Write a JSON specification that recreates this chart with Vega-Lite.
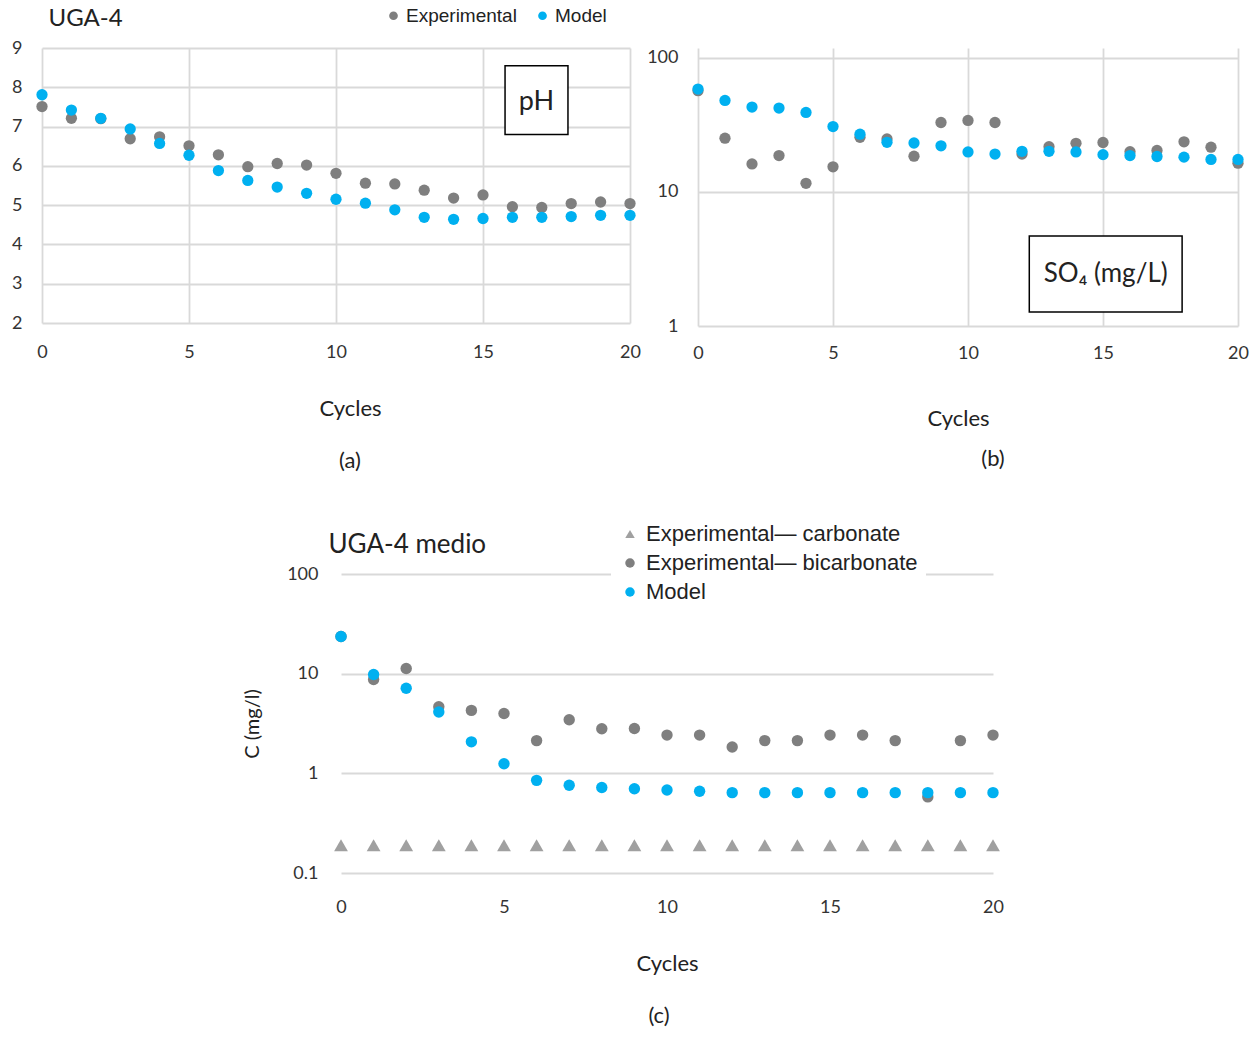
{
  "$schema": "https://vega.github.io/schema/vega-lite/v6.json",
  "background": "white",
  "padding": {"left": 11, "top": 6, "right": 5, "bottom": 5},
  "config": {
    "view": {"stroke": null},
    "axis": {
      "domain": false, "ticks": false, "grid": true, "labelFlush": false, "labelOverlap": false,
      "gridColor": "#d9d9d9", "gridWidth": 1.8,
      "labelFont": "Lato", "labelFontSize": 18, "labelColor": "#333333",
      "titleFont": "Lato", "titleFontSize": 22, "titleFontWeight": "normal", "titleColor": "#222222"
    },
    "legend": {"labelFont": "Liberation Sans", "labelColor": "#222222", "labelLimit": 0},
    "title": {"font": "Lato", "fontWeight": "normal", "fontSize": 22, "color": "#222222"}
  },
  "datasets": {
    "ph": [
      {"cycle": 0, "value": 7.51, "series": "Experimental"},
      {"cycle": 1, "value": 7.21, "series": "Experimental"},
      {"cycle": 2, "value": 7.2, "series": "Experimental"},
      {"cycle": 3, "value": 6.69, "series": "Experimental"},
      {"cycle": 4, "value": 6.74, "series": "Experimental"},
      {"cycle": 5, "value": 6.51, "series": "Experimental"},
      {"cycle": 6, "value": 6.28, "series": "Experimental"},
      {"cycle": 7, "value": 5.98, "series": "Experimental"},
      {"cycle": 8, "value": 6.06, "series": "Experimental"},
      {"cycle": 9, "value": 6.02, "series": "Experimental"},
      {"cycle": 10, "value": 5.81, "series": "Experimental"},
      {"cycle": 11, "value": 5.56, "series": "Experimental"},
      {"cycle": 12, "value": 5.54, "series": "Experimental"},
      {"cycle": 13, "value": 5.38, "series": "Experimental"},
      {"cycle": 14, "value": 5.18, "series": "Experimental"},
      {"cycle": 15, "value": 5.26, "series": "Experimental"},
      {"cycle": 16, "value": 4.96, "series": "Experimental"},
      {"cycle": 17, "value": 4.94, "series": "Experimental"},
      {"cycle": 18, "value": 5.04, "series": "Experimental"},
      {"cycle": 19, "value": 5.08, "series": "Experimental"},
      {"cycle": 20, "value": 5.04, "series": "Experimental"},
      {"cycle": 0, "value": 7.81, "series": "Model"},
      {"cycle": 1, "value": 7.42, "series": "Model"},
      {"cycle": 2, "value": 7.21, "series": "Model"},
      {"cycle": 3, "value": 6.94, "series": "Model"},
      {"cycle": 4, "value": 6.57, "series": "Model"},
      {"cycle": 5, "value": 6.27, "series": "Model"},
      {"cycle": 6, "value": 5.88, "series": "Model"},
      {"cycle": 7, "value": 5.63, "series": "Model"},
      {"cycle": 8, "value": 5.46, "series": "Model"},
      {"cycle": 9, "value": 5.3, "series": "Model"},
      {"cycle": 10, "value": 5.15, "series": "Model"},
      {"cycle": 11, "value": 5.05, "series": "Model"},
      {"cycle": 12, "value": 4.88, "series": "Model"},
      {"cycle": 13, "value": 4.69, "series": "Model"},
      {"cycle": 14, "value": 4.64, "series": "Model"},
      {"cycle": 15, "value": 4.66, "series": "Model"},
      {"cycle": 16, "value": 4.69, "series": "Model"},
      {"cycle": 17, "value": 4.69, "series": "Model"},
      {"cycle": 18, "value": 4.71, "series": "Model"},
      {"cycle": 19, "value": 4.74, "series": "Model"},
      {"cycle": 20, "value": 4.74, "series": "Model"}
    ],
    "so4": [
      {"cycle": 0, "value": 57, "series": "Experimental"},
      {"cycle": 1, "value": 25.2, "series": "Experimental"},
      {"cycle": 2, "value": 16.2, "series": "Experimental"},
      {"cycle": 3, "value": 18.7, "series": "Experimental"},
      {"cycle": 4, "value": 11.6, "series": "Experimental"},
      {"cycle": 5, "value": 15.4, "series": "Experimental"},
      {"cycle": 6, "value": 25.6, "series": "Experimental"},
      {"cycle": 7, "value": 24.9, "series": "Experimental"},
      {"cycle": 8, "value": 18.5, "series": "Experimental"},
      {"cycle": 9, "value": 33.0, "series": "Experimental"},
      {"cycle": 10, "value": 34.2, "series": "Experimental"},
      {"cycle": 11, "value": 33.0, "series": "Experimental"},
      {"cycle": 12, "value": 19.2, "series": "Experimental"},
      {"cycle": 13, "value": 21.8, "series": "Experimental"},
      {"cycle": 14, "value": 23.1, "series": "Experimental"},
      {"cycle": 15, "value": 23.4, "series": "Experimental"},
      {"cycle": 16, "value": 20.0, "series": "Experimental"},
      {"cycle": 17, "value": 20.4, "series": "Experimental"},
      {"cycle": 18, "value": 23.7, "series": "Experimental"},
      {"cycle": 19, "value": 21.6, "series": "Experimental"},
      {"cycle": 20, "value": 16.4, "series": "Experimental"},
      {"cycle": 0, "value": 58.6, "series": "Model"},
      {"cycle": 1, "value": 48.2, "series": "Model"},
      {"cycle": 2, "value": 43.0, "series": "Model"},
      {"cycle": 3, "value": 42.3, "series": "Model"},
      {"cycle": 4, "value": 39.2, "series": "Model"},
      {"cycle": 5, "value": 30.8, "series": "Model"},
      {"cycle": 6, "value": 27.0, "series": "Model"},
      {"cycle": 7, "value": 23.5, "series": "Model"},
      {"cycle": 8, "value": 23.2, "series": "Model"},
      {"cycle": 9, "value": 22.1, "series": "Model"},
      {"cycle": 10, "value": 19.9, "series": "Model"},
      {"cycle": 11, "value": 19.2, "series": "Model"},
      {"cycle": 12, "value": 20.1, "series": "Model"},
      {"cycle": 13, "value": 20.1, "series": "Model"},
      {"cycle": 14, "value": 19.9, "series": "Model"},
      {"cycle": 15, "value": 19.0, "series": "Model"},
      {"cycle": 16, "value": 18.7, "series": "Model"},
      {"cycle": 17, "value": 18.4, "series": "Model"},
      {"cycle": 18, "value": 18.2, "series": "Model"},
      {"cycle": 19, "value": 17.5, "series": "Model"},
      {"cycle": 20, "value": 17.5, "series": "Model"}
    ],
    "carbonate": [
      {"cycle": 0, "value": 0.19, "series": "Experimental— carbonate"},
      {"cycle": 1, "value": 0.19, "series": "Experimental— carbonate"},
      {"cycle": 2, "value": 0.19, "series": "Experimental— carbonate"},
      {"cycle": 3, "value": 0.19, "series": "Experimental— carbonate"},
      {"cycle": 4, "value": 0.19, "series": "Experimental— carbonate"},
      {"cycle": 5, "value": 0.19, "series": "Experimental— carbonate"},
      {"cycle": 6, "value": 0.19, "series": "Experimental— carbonate"},
      {"cycle": 7, "value": 0.19, "series": "Experimental— carbonate"},
      {"cycle": 8, "value": 0.19, "series": "Experimental— carbonate"},
      {"cycle": 9, "value": 0.19, "series": "Experimental— carbonate"},
      {"cycle": 10, "value": 0.19, "series": "Experimental— carbonate"},
      {"cycle": 11, "value": 0.19, "series": "Experimental— carbonate"},
      {"cycle": 12, "value": 0.19, "series": "Experimental— carbonate"},
      {"cycle": 13, "value": 0.19, "series": "Experimental— carbonate"},
      {"cycle": 14, "value": 0.19, "series": "Experimental— carbonate"},
      {"cycle": 15, "value": 0.19, "series": "Experimental— carbonate"},
      {"cycle": 16, "value": 0.19, "series": "Experimental— carbonate"},
      {"cycle": 17, "value": 0.19, "series": "Experimental— carbonate"},
      {"cycle": 18, "value": 0.19, "series": "Experimental— carbonate"},
      {"cycle": 19, "value": 0.19, "series": "Experimental— carbonate"},
      {"cycle": 20, "value": 0.19, "series": "Experimental— carbonate"}
    ],
    "bicarb": [
      {"cycle": 0, "value": 23.6, "series": "Experimental— bicarbonate"},
      {"cycle": 1, "value": 8.73, "series": "Experimental— bicarbonate"},
      {"cycle": 2, "value": 11.25, "series": "Experimental— bicarbonate"},
      {"cycle": 3, "value": 4.66, "series": "Experimental— bicarbonate"},
      {"cycle": 4, "value": 4.28, "series": "Experimental— bicarbonate"},
      {"cycle": 5, "value": 3.99, "series": "Experimental— bicarbonate"},
      {"cycle": 6, "value": 2.13, "series": "Experimental— bicarbonate"},
      {"cycle": 7, "value": 3.45, "series": "Experimental— bicarbonate"},
      {"cycle": 8, "value": 2.8, "series": "Experimental— bicarbonate"},
      {"cycle": 9, "value": 2.82, "series": "Experimental— bicarbonate"},
      {"cycle": 10, "value": 2.42, "series": "Experimental— bicarbonate"},
      {"cycle": 11, "value": 2.42, "series": "Experimental— bicarbonate"},
      {"cycle": 12, "value": 1.84, "series": "Experimental— bicarbonate"},
      {"cycle": 13, "value": 2.13, "series": "Experimental— bicarbonate"},
      {"cycle": 14, "value": 2.13, "series": "Experimental— bicarbonate"},
      {"cycle": 15, "value": 2.42, "series": "Experimental— bicarbonate"},
      {"cycle": 16, "value": 2.42, "series": "Experimental— bicarbonate"},
      {"cycle": 17, "value": 2.13, "series": "Experimental— bicarbonate"},
      {"cycle": 18, "value": 0.58, "series": "Experimental— bicarbonate"},
      {"cycle": 19, "value": 2.13, "series": "Experimental— bicarbonate"},
      {"cycle": 20, "value": 2.42, "series": "Experimental— bicarbonate"},
      {"cycle": 0, "value": 23.6, "series": "Model"},
      {"cycle": 1, "value": 9.8, "series": "Model"},
      {"cycle": 2, "value": 7.13, "series": "Model"},
      {"cycle": 3, "value": 4.12, "series": "Model"},
      {"cycle": 4, "value": 2.07, "series": "Model"},
      {"cycle": 5, "value": 1.25, "series": "Model"},
      {"cycle": 6, "value": 0.85, "series": "Model"},
      {"cycle": 7, "value": 0.76, "series": "Model"},
      {"cycle": 8, "value": 0.72, "series": "Model"},
      {"cycle": 9, "value": 0.7, "series": "Model"},
      {"cycle": 10, "value": 0.68, "series": "Model"},
      {"cycle": 11, "value": 0.66, "series": "Model"},
      {"cycle": 12, "value": 0.64, "series": "Model"},
      {"cycle": 13, "value": 0.64, "series": "Model"},
      {"cycle": 14, "value": 0.64, "series": "Model"},
      {"cycle": 15, "value": 0.64, "series": "Model"},
      {"cycle": 16, "value": 0.64, "series": "Model"},
      {"cycle": 17, "value": 0.64, "series": "Model"},
      {"cycle": 18, "value": 0.64, "series": "Model"},
      {"cycle": 19, "value": 0.64, "series": "Model"},
      {"cycle": 20, "value": 0.64, "series": "Model"}
    ],
    "phBox": [{"cycle": 15.75, "cycle2": 17.89, "value": 8.55, "value2": 6.8}],
    "phLabel": [{"cycle": 16.82, "value": 7.62, "label": "pH"}],
    "so4Box": [{"cycle": 12.27, "cycle2": 17.93, "value": 4.69, "value2": 1.27}],
    "so4Label": [{"cycle": 15.1, "value": 2.46, "label": "SO₄ (mg/L)"}]
  },
  "vconcat": [
    {
      "hconcat": [
        {
          "width": 588,
          "height": 275,
          "title": {"text": "(a)", "orient": "bottom", "frame": "group", "dx": 14, "offset": 32},
          "encoding": {
            "x": {"field": "cycle", "type": "quantitative", "scale": {"domain": [0, 20], "nice": false},
              "axis": {"values": [0, 5, 10, 15, 20], "title": "Cycles", "titleX": 308, "titlePadding": 37, "labelPadding": 20}},
            "y": {"field": "value", "type": "quantitative", "scale": {"domain": [2, 9], "nice": false, "zero": false},
              "axis": {"values": [2, 3, 4, 5, 6, 7, 8, 9], "labelPadding": 20, "title": "UGA-4", "titleAngle": 0, "titleAlign": "left", "titleBaseline": "middle", "titleX": 6, "titleY": -30, "titleFont": "Lato", "titleFontSize": 24}}
          },
          "layer": [
            {
              "data": {"name": "ph"},
              "mark": {"type": "point", "filled": true, "size": 127, "opacity": 1},
              "encoding": {
                "color": {"field": "series", "type": "nominal",
                  "scale": {"domain": ["Experimental", "Model"], "range": ["#7f7f7f", "#00b0f0"]},
                  "legend": {"orient": "none", "legendX": 342, "legendY": -42, "direction": "horizontal", "title": null, "labelFontSize": 19, "symbolSize": 75, "symbolType": "circle", "columnPadding": 16, "labelOffset": 3, "padding": 0}}
              }
            },
            {
              "data": {"name": "phBox"},
              "mark": {"type": "rect", "fill": "white", "stroke": "black", "strokeWidth": 1.5},
              "encoding": {"x2": {"field": "cycle2"}, "y2": {"field": "value2"}}
            },
            {
              "data": {"name": "phLabel"},
              "mark": {"type": "text", "font": "Lato", "fontSize": 27, "color": "#222222", "baseline": "middle"},
              "encoding": {"text": {"field": "label"}}
            }
          ]
        },
        {
          "width": 540,
          "height": 278,
          "title": {"text": "(b)", "orient": "bottom", "frame": "group", "dx": 25, "offset": 20},
          "encoding": {
            "x": {"field": "cycle", "type": "quantitative", "scale": {"domain": [0, 20], "nice": false},
              "axis": {"values": [0, 5, 10, 15, 20], "title": "Cycles", "titleX": 260, "titlePadding": 46, "labelPadding": 18}},
            "y": {"field": "value", "type": "quantitative", "scale": {"type": "log", "domain": [1, 118.7], "nice": false},
              "axis": {"values": [1, 10, 100], "format": "~g", "labelPadding": 20, "title": null}}
          },
          "layer": [
            {
              "data": {"name": "so4"},
              "mark": {"type": "point", "filled": true, "size": 127, "opacity": 1},
              "encoding": {
                "color": {"field": "series", "type": "nominal",
                  "scale": {"domain": ["Experimental", "Model"], "range": ["#7f7f7f", "#00b0f0"]},
                  "legend": null}
              }
            },
            {
              "data": {"name": "so4Box"},
              "mark": {"type": "rect", "fill": "white", "stroke": "black", "strokeWidth": 1.5},
              "encoding": {"x2": {"field": "cycle2"}, "y2": {"field": "value2"}}
            },
            {
              "data": {"name": "so4Label"},
              "mark": {"type": "text", "font": "Lato", "fontSize": 26, "color": "#222222", "baseline": "middle"},
              "encoding": {"text": {"field": "label"}}
            }
          ]
        }
      ],
      "spacing": 68,
      "bounds": "flush",
      "resolve": {"scale": {"color": "independent"}, "legend": {"color": "independent"}}
    },
    {
      "hconcat": [
        {
          "width": 200,
          "height": 10,
          "data": {"values": []},
          "mark": "point"
        },
        {
          "width": 652,
          "height": 299,
          "title": {"text": "(c)", "orient": "bottom", "frame": "group", "dx": -8, "offset": 32},
          "layer": [
            {
              "data": {"name": "carbonate"},
              "mark": {"type": "point", "filled": true, "size": 190, "opacity": 1},
              "encoding": {
                "x": {"field": "cycle", "type": "quantitative", "scale": {"domain": [0, 20], "nice": false},
                  "axis": {"orient": "top", "labels": false, "grid": false, "title": "UGA-4 medio", "titleAngle": 0, "titleAlign": "left", "titleBaseline": "middle", "titleX": -13, "titleY": -30, "titleFont": "Lato", "titleFontSize": 26}},
                "y": {"field": "value", "type": "quantitative", "scale": {"type": "log", "domain": [0.1, 100], "nice": false},
                  "axis": {"values": [0.1, 1, 10, 100], "format": "~g", "labelPadding": 23, "title": "C (mg/l)", "titleFontSize": 20, "titlePadding": 24}},
                "color": {"field": "series", "type": "nominal",
                  "scale": {"domain": ["Experimental— carbonate", "Experimental— bicarbonate", "Model"], "range": ["#a0a0a0", "#7f7f7f", "#00b0f0"]},
                  "legend": {"orient": "none", "legendX": 270, "legendY": -59, "direction": "vertical", "title": null, "labelFontSize": 22, "symbolSize": 90, "rowPadding": 7, "labelOffset": 5, "padding": 8, "fillColor": "white"}},
                "shape": {"field": "series", "type": "nominal",
                  "scale": {"domain": ["Experimental— carbonate", "Experimental— bicarbonate", "Model"], "range": ["triangle-up", "circle", "circle"]},
                  "legend": {"orient": "none", "legendX": 270, "legendY": -59, "direction": "vertical", "title": null, "labelFontSize": 22, "symbolSize": 90, "rowPadding": 7, "labelOffset": 5, "padding": 8, "fillColor": "white"}}
              }
            },
            {
              "data": {"name": "bicarb"},
              "mark": {"type": "point", "filled": true, "size": 130, "opacity": 1},
              "encoding": {
                "x": {"field": "cycle", "type": "quantitative",
                  "axis": {"orient": "bottom", "values": [0, 5, 10, 15, 20], "title": "Cycles", "titlePadding": 37, "labelPadding": 25}},
                "y": {"field": "value", "type": "quantitative"},
                "color": {"field": "series", "type": "nominal"},
                "shape": {"field": "series", "type": "nominal"}
              }
            }
          ],
          "resolve": {"axis": {"x": "independent"}}
        }
      ],
      "spacing": 0,
      "resolve": {"scale": {"color": "independent", "shape": "independent"}, "legend": {"color": "independent", "shape": "independent"}}
    }
  ],
  "spacing": 43,
  "resolve": {"scale": {"color": "independent", "shape": "independent"}, "legend": {"color": "independent", "shape": "independent"}}
}
